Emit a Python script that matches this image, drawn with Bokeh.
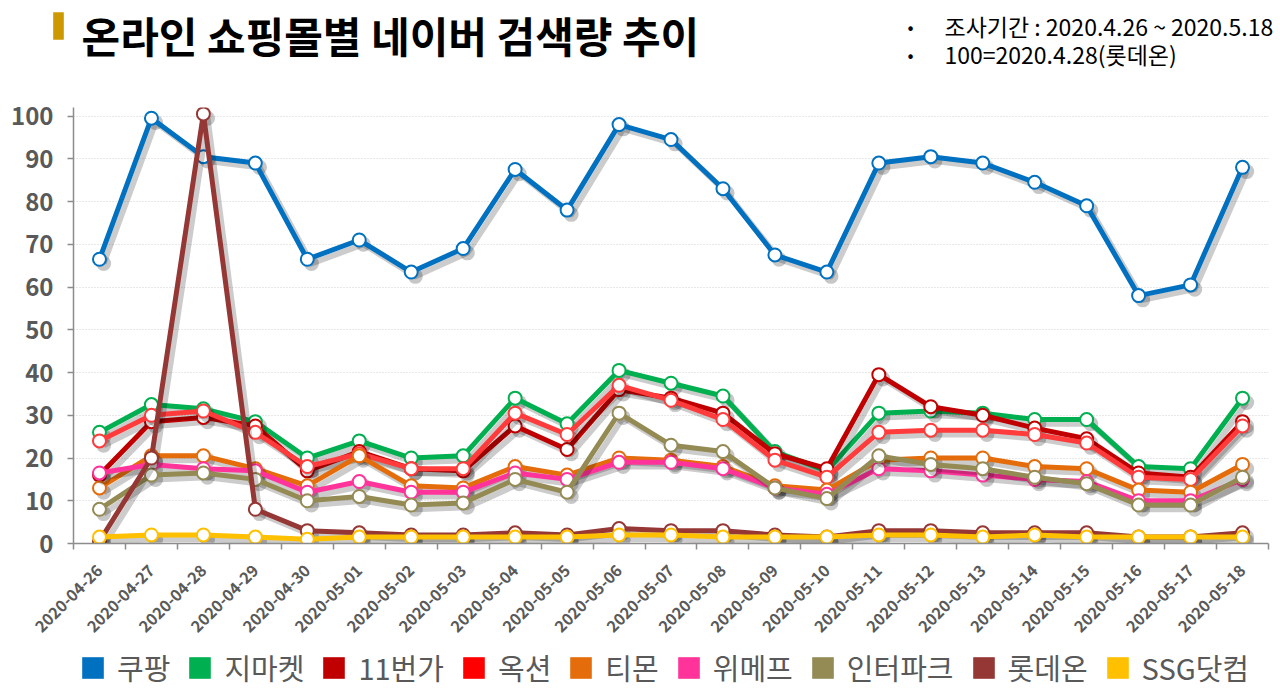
import math
from bokeh.plotting import figure
from bokeh.layouts import column
from bokeh.models import (FixedTicker, Legend, LegendItem, Label, BoxAnnotation,
                          ColumnDataSource, Range1d)
from bokeh.transform import dodge
from bokeh.embed import file_html
from bokeh.resources import INLINE

dates = ["2020-04-26", "2020-04-27", "2020-04-28", "2020-04-29", "2020-04-30",
         "2020-05-01", "2020-05-02", "2020-05-03", "2020-05-04", "2020-05-05",
         "2020-05-06", "2020-05-07", "2020-05-08", "2020-05-09", "2020-05-10",
         "2020-05-11", "2020-05-12", "2020-05-13", "2020-05-14", "2020-05-15",
         "2020-05-16", "2020-05-17", "2020-05-18"]

coupang = [66.5, 99.5, 90.5, 89, 66.5, 71, 63.5, 69, 87.5, 78, 98, 94.5, 83,
           67.5, 63.5, 89, 90.5, 89, 84.5, 79, 58, 60.5, 88]
gmarket = [26, 32.5, 31.5, 28.5, 20, 24, 20, 20.5, 34, 28, 40.5, 37.5, 34.5,
           21.5, 17, 30.5, 31, 30.5, 29, 29, 18, 17.5, 34]
st11 = [16, 28.5, 29.5, 27.5, 17, 21.5, 17.5, 17, 27.5, 22, 36, 34, 30.5,
        21, 17.5, 39.5, 32, 30, 27, 24.5, 16.5, 15.5, 28.5]
auction = [24, 30, 31, 26, 18, 21, 17.5, 17.5, 30.5, 25.5, 37, 33.5, 29,
           19.5, 15.5, 26, 26.5, 26.5, 25.5, 23.5, 15.5, 15, 27.5]
tmon = [13, 20.5, 20.5, 17.5, 13.5, 20.5, 13.5, 13, 18, 16, 20, 19.5, 18,
        13.5, 12.5, 19.5, 20, 20, 18, 17.5, 12.5, 12, 18.5]
wemakeprice = [16.5, 18.5, 17.5, 17, 12, 14.5, 12, 12, 16.5, 15, 19, 19, 17.5,
               13, 11.5, 17.5, 17, 16, 15, 14.5, 10, 10, 15]
interpark = [8, 16, 16.5, 15, 10, 11, 9, 9.5, 15, 12, 30.5, 23, 21.5,
             13, 10.5, 20.5, 18.5, 17.5, 15.5, 14, 9, 9, 15.5]
lotteon = [0.5, 20, 100.5, 8, 3, 2.5, 2, 2, 2.5, 2, 3.5, 3, 3,
           2, 1.5, 3, 3, 2.5, 2.5, 2.5, 1.5, 1.5, 2.5]
ssg = [1.5, 2, 2, 1.5, 1, 1.5, 1.5, 1.5, 1.5, 1.5, 2, 2, 1.5,
       1.5, 1.5, 2, 2, 1.5, 2, 1.5, 1.5, 1.5, 1.5]

series_names = ["쿠팡", "지마켓", "11번가", "옥션", "티몬", "위메프", "인터파크", "롯데온", "SSG닷컴"]
series_values = [coupang, gmarket, st11, auction, tmon, wemakeprice, interpark, lotteon, ssg]
line_colors = ["#0070C0", "#00B050", "#C00000", "#FF3B3B", "#E46C0A", "#FF3399", "#948A54", "#953735", "#FFC000"]
legend_colors = ["#0070C0", "#00B050", "#C00000", "#FF0000", "#E46C0A", "#FF3399", "#948A54", "#953735", "#FFC000"]

y_ticks = [0, 10, 20, 30, 40, 50, 60, 70, 80, 90, 100]

title_text = "온라인 쇼핑몰별 네이버 검색량 추이"
note_lines = ["조사기간 : 2020.4.26 ~ 2020.5.18", "100=2020.4.28(롯데온)"]

FONT = "Noto Sans CJK KR"
GRAY = "#595959"
W = 1280
NAN = float("nan")

xs = list(range(len(dates)))


def blank_fig(h, left=0):
    f = figure(width=W, height=h, output_backend="svg", toolbar_location=None,
               x_axis_type=None, y_axis_type=None,
               x_range=Range1d(0, 1), y_range=Range1d(0, 1),
               min_border=0, min_border_left=left, min_border_right=0,
               min_border_top=0, min_border_bottom=0, frame_align=False)
    f.outline_line_color = None
    f.xgrid.grid_line_color = None
    f.ygrid.grid_line_color = None
    return f


# ---------- header ----------
H_HEAD = 88
head = blank_fig(H_HEAD)
head.add_layout(BoxAnnotation(left=52.7, right=63.3, top=H_HEAD - 11.7, bottom=H_HEAD - 39.3,
                              left_units="screen", right_units="screen",
                              top_units="screen", bottom_units="screen",
                              fill_color="#CC9900", fill_alpha=1, line_color=None))
head.add_layout(Label(x=81, y=H_HEAD - 3, x_units="screen", y_units="screen", text=title_text,
                      text_font=FONT, text_font_size="42px", text_font_style="bold",
                      text_color="black", text_baseline="top"))
for i, t in enumerate(note_lines):
    yy = H_HEAD - 25 - 28 * i
    head.add_layout(Label(x=910, y=yy, x_units="screen", y_units="screen", text="•",
                          text_font=FONT, text_font_size="18px", text_color="black",
                          text_baseline="middle", text_align="center"))
    head.add_layout(Label(x=944, y=yy, x_units="screen", y_units="screen", text=t,
                          text_font=FONT, text_font_size="23px", text_color="black",
                          text_baseline="middle"))

# ---------- main chart ----------
H_MAIN = 552
p = figure(width=W, height=H_MAIN, output_backend="svg", toolbar_location=None,
           x_range=Range1d(-0.5, len(dates) - 0.5), y_range=Range1d(0, 102),
           min_border_left=73, min_border_right=12, min_border_top=19, min_border_bottom=94)
p.outline_line_color = None

p.xaxis.ticker = FixedTicker(ticks=xs, minor_ticks=[i - 0.5 for i in range(len(dates) + 1)])
p.xaxis.major_label_overrides = {i: d for i, d in enumerate(dates)}
p.xaxis.major_label_orientation = math.pi / 4
p.xaxis.major_tick_out = 0
p.xaxis.major_tick_in = 0
p.xaxis.minor_tick_out = 6
p.xaxis.minor_tick_in = 0
p.xaxis.major_label_standoff = 18
p.xaxis.major_label_text_font = FONT
p.xaxis.major_label_text_font_size = "16px"
p.xaxis.major_label_text_font_style = "bold"
p.xaxis.major_label_text_color = GRAY
p.xaxis.axis_line_color = "#8C8C8C"
p.xaxis.axis_line_width = 1.5
p.xaxis.minor_tick_line_color = "#8C8C8C"
p.xaxis.minor_tick_line_width = 1.5

p.yaxis.ticker = FixedTicker(ticks=y_ticks, minor_ticks=[])
p.yaxis.major_tick_out = 6
p.yaxis.major_tick_in = 0
p.yaxis.major_label_standoff = 14
p.yaxis.major_label_text_font = FONT
p.yaxis.major_label_text_font_size = "24px"
p.yaxis.major_label_text_font_style = "bold"
p.yaxis.major_label_text_color = GRAY
p.yaxis.axis_line_color = "#8C8C8C"
p.yaxis.axis_line_width = 1.5
p.yaxis.major_tick_line_color = "#8C8C8C"
p.yaxis.major_tick_line_width = 1.5

p.xgrid.grid_line_color = None
p.ygrid.grid_line_color = "#D0D0D0"
p.ygrid.grid_line_dash = "1 2"
p.ygrid.grid_line_width = 1

for name, vals, col in zip(series_names, series_values, line_colors):
    src = ColumnDataSource(dict(x=xs, y=vals))
    sx = dodge("x", 0.08)
    sy = dodge("y", -1.0)
    p.line(sx, sy, source=src, line_color="black", line_alpha=0.2, line_width=6, line_join="round")
    p.scatter(sx, sy, source=src, size=15, fill_color="black", fill_alpha=0.22, line_color=None)
    p.line("x", "y", source=src, line_color=col, line_width=5, line_join="round")
    p.scatter("x", "y", source=src, size=13, fill_color="white", line_color=col, line_width=2)

# ---------- legend ----------
H_LEG = 693 - H_HEAD - H_MAIN
leg = blank_fig(H_LEG, left=73)
items = []
for name, col in zip(series_names, legend_colors):
    r = leg.quad(left=[NAN], right=[NAN], top=[NAN], bottom=[NAN], fill_color=col, line_color=None)
    items.append(LegendItem(label=name, renderers=[r]))
legend = Legend(items=items, orientation="horizontal", location="top_left",
                label_text_font=FONT, label_text_font_size="29px", label_text_color=GRAY,
                glyph_width=27, glyph_height=27, label_standoff=11, spacing=16,
                label_height=27, padding=0, margin=6, border_line_color=None,
                background_fill_alpha=0)
leg.add_layout(legend, "center")

layout = column(head, p, leg, spacing=0)
open("out.html", "w").write(file_html(layout, INLINE))
